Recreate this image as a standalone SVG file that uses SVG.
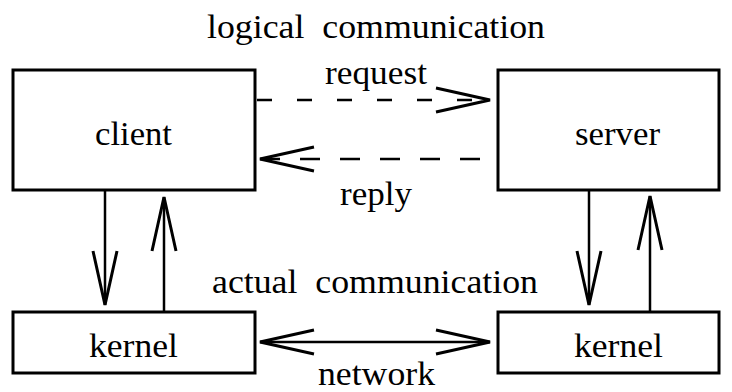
<svg xmlns="http://www.w3.org/2000/svg" width="732" height="392" viewBox="0 0 732 392">
  <defs>
    <!-- long open V arrowhead -->
    <marker id="vee" markerUnits="userSpaceOnUse" markerWidth="60" markerHeight="30" viewBox="-56 -15 60 30" refX="0" refY="0" orient="auto-start-reverse" overflow="visible">
      <path d="M-54,-12 L0,0 L-54,12" fill="none" stroke="#000" stroke-width="3" stroke-dasharray="none" stroke-linejoin="miter"/>
    </marker>
  </defs>
  <style>
    .box { fill: #fff; stroke: #000; stroke-width: 3; }
    .lbl { font-family: "Liberation Serif", "Times New Roman", Times, serif; font-size: 33px; fill: #000; white-space: pre; }
    .wire { fill: none; stroke: #000; stroke-width: 2.5; }
    .dash { stroke-dasharray: 15 25; }
    .dash2 { stroke-dasharray: 20 20; }
  </style>
  <rect width="732" height="392" fill="#fff"/>

  <text class="lbl" x="207" y="38" textLength="338" lengthAdjust="spacingAndGlyphs">logical  communication</text>
  <text class="lbl" x="212" y="293" textLength="326" lengthAdjust="spacingAndGlyphs">actual  communication</text>

  <g id="client">
    <rect class="box" x="13" y="70" width="242" height="120"/>
    <text class="lbl" x="95" y="145" textLength="77" lengthAdjust="spacingAndGlyphs">client</text>
  </g>
  <g id="server">
    <rect class="box" x="498" y="70" width="221" height="120"/>
    <text class="lbl" x="575" y="145" textLength="85" lengthAdjust="spacingAndGlyphs">server</text>
  </g>
  <g id="kernel-client">
    <rect class="box" x="13" y="312" width="242" height="61"/>
    <text class="lbl" x="89" y="357" textLength="89" lengthAdjust="spacingAndGlyphs">kernel</text>
  </g>
  <g id="kernel-server">
    <rect class="box" x="498" y="312" width="221" height="61"/>
    <text class="lbl" x="574" y="357" textLength="89" lengthAdjust="spacingAndGlyphs">kernel</text>
  </g>

  <g id="connectors">
    <!-- logical request / reply -->
    <path class="wire dash" d="M257,100 L490,100" marker-end="url(#vee)"/>
    <text class="lbl" x="325" y="84" textLength="102" lengthAdjust="spacingAndGlyphs">request</text>
    <path class="wire dash2" d="M480,159 L260,159" marker-end="url(#vee)"/>
    <text class="lbl" x="340" y="205" textLength="72" lengthAdjust="spacingAndGlyphs">reply</text>

    <!-- client side system calls -->
    <path class="wire" d="M105,190 L105,305" marker-end="url(#vee)"/>
    <path class="wire" d="M164,312 L164,197" marker-end="url(#vee)"/>

    <!-- server side system calls -->
    <path class="wire" d="M589,190 L589,305" marker-end="url(#vee)"/>
    <path class="wire" d="M650,312 L650,196" marker-end="url(#vee)"/>

    <!-- network link -->
    <path class="wire" d="M260,342 L490,342" marker-start="url(#vee)" marker-end="url(#vee)"/>
    <text class="lbl" x="318" y="385" textLength="117" lengthAdjust="spacingAndGlyphs">network</text>
  </g>
</svg>
